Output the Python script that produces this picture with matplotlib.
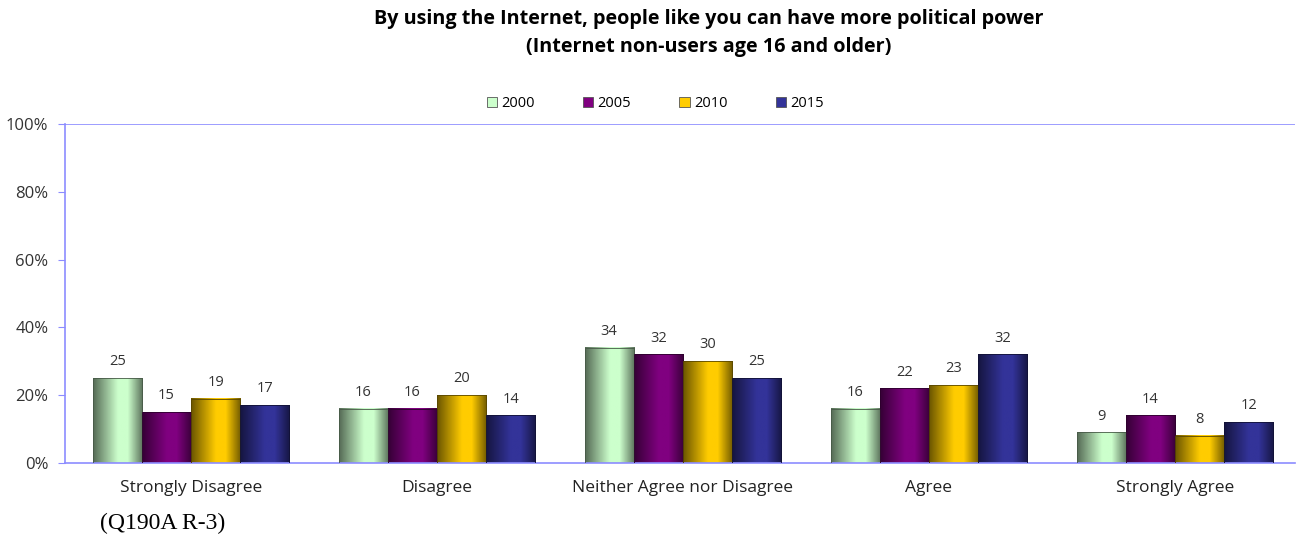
import numpy as np
import matplotlib.pyplot as plt
from matplotlib import colors as mcolors
from matplotlib.patches import Rectangle

plt.rcParams['font.family'] = ['Open Sans', 'DejaVu Sans']

categories = ["Strongly Disagree", "Disagree", "Neither Agree nor Disagree",
              "Agree", "Strongly Agree"]
years = ["2000", "2005", "2010", "2015"]
v2000 = [25, 16, 34, 16, 9]
v2005 = [15, 16, 32, 22, 14]
v2010 = [19, 20, 30, 23, 8]
v2015 = [17, 14, 25, 32, 12]
series = [v2000, v2005, v2010, v2015]
bar_colors = ["#CCFFCC", "#800080", "#FFCC00", "#333399"]
axis_color = "#8C8CFF"

fig = plt.figure(figsize=(12.96, 5.37), dpi=100)
ax = fig.add_axes([0.0502, 0.138, 0.9490, 0.631])

x = np.arange(len(categories))
width = 0.2

# horizontal shading profile (cylinder look)
t = np.linspace(0, 1, 64)
shade = np.interp(t, [0, 0.5, 0.7, 1], [0.42, 1.0, 1.0, 0.45])

for i, (vals, col) in enumerate(zip(series, bar_colors)):
    rgb = np.array(mcolors.to_rgb(col))
    grad = (rgb[None, :] * shade[:, None])[None, :, :]
    offs = (i - 1.5) * width
    for xi, v in zip(x, vals):
        x0 = xi + offs - width / 2
        ax.imshow(grad, extent=[x0, x0 + width, 0, v], aspect="auto",
                  interpolation="bilinear", zorder=2)
        ax.add_patch(Rectangle((x0, 0), width, v, fill=False,
                               edgecolor=mcolors.to_hex(rgb * 0.35),
                               linewidth=0.6, zorder=3))
        ax.text(xi + offs, v + 2.6, f"{v}", ha="center", va="bottom",
                fontsize=10.5, color="#333333")
    ax.add_patch(Rectangle((0, 0), 0, 0, facecolor=col,
                           edgecolor="#555555", linewidth=0.6, label=years[i]))

ax.set_xlim(-0.512, len(categories) - 0.512)
ax.set_ylim(0, 100)
ax.axhline(100, color=axis_color, linewidth=1.2, zorder=1)
ax.set_yticks(range(0, 101, 20))
ax.set_yticklabels([f"{v}%" for v in range(0, 101, 20)], fontsize=12,
                   color="#333333")
ax.set_xticks(x)
ax.set_xticklabels(categories, fontsize=12.5, color="#222222")
ax.tick_params(axis="x", length=0, pad=12)
ax.tick_params(axis="y", length=5, color=axis_color, pad=7)
for s in ["top", "right"]:
    ax.spines[s].set_visible(False)
for s in ["left", "bottom"]:
    ax.spines[s].set_color(axis_color)
    ax.spines[s].set_linewidth(1.2)

ax.legend(loc="lower center", bbox_to_anchor=(0.48, 1.0), ncol=4,
          frameon=False, fontsize=10.5, handlelength=0.7, handleheight=0.7,
          columnspacing=3.3, handletextpad=0.3)

fig.text(0.547, 0.965, "By using the Internet, people like you can have more political power",
         ha="center", va="center", fontsize=14.2, fontweight="bold")
fig.text(0.547, 0.912, "(Internet non-users age 16 and older)",
         ha="center", va="center", fontsize=14.2, fontweight="bold")
fig.text(0.077, 0.025, "(Q190A R-3)", ha="left", va="center",
         fontsize=17, family=["Liberation Serif", "DejaVu Serif"])

fig.savefig("out.png", dpi=100)
